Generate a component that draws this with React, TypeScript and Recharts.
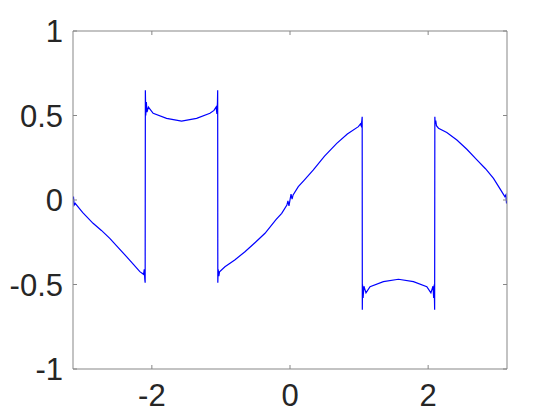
import React from "react";
import { LineChart, Line, XAxis, YAxis } from "recharts";

const xValues: number[] = [
  -3.1416, -3.135, -3.125, -3.11, -3.0, -2.851, -2.73, -2.609, -2.49, -2.367, -2.27, -2.174, -2.12, -2.11, -2.102, -2.097,
  -2.094, -2.088, -2.08, -2.07, -2.05, -1.981, -1.787, -1.57, -1.352, -1.159, -1.1, -1.07, -1.058, -1.05,
  -1.047, -1.045, -1.04, -1.03, -1.02, -0.942, -0.8, -0.652, -0.5, -0.362, -0.2, -0.12, -0.045, -0.03, -0.015, 0.0, 0.015,
  0.03, 0.045, 0.12, 0.2, 0.338, 0.5, 0.677, 0.83, 0.99, 1.02, 1.03, 1.04, 1.045,
  1.047, 1.05, 1.058, 1.07, 1.1, 1.159, 1.352, 1.57, 1.787, 1.981, 2.04, 2.07, 2.08, 2.088, 2.094,
  2.097, 2.102, 2.11, 2.12, 2.15, 2.27, 2.416, 2.56, 2.706, 2.83, 2.946, 3.05, 3.11, 3.125, 3.135, 3.1416,
];

const yValues: number[] = [
  0.0, 0.02, -0.03, -0.02, -0.075, -0.138, -0.18, -0.227, -0.28, -0.335, -0.38, -0.424, -0.44, -0.41, -0.47, -0.49,
  0.65, 0.5, 0.58, 0.52, 0.55, 0.513, 0.483, 0.467, 0.483, 0.513, 0.53, 0.55, 0.51, 0.58,
  0.65, -0.49, -0.41, -0.45, -0.425, -0.395, -0.355, -0.306, -0.25, -0.197, -0.115, -0.079, -0.03, -0.005, -0.035, 0.0, 0.035,
  0.005, 0.03, 0.079, 0.115, 0.178, 0.26, 0.335, 0.39, 0.434, 0.45, 0.44, 0.47, 0.493,
  -0.65, -0.5, -0.58, -0.51, -0.55, -0.513, -0.483, -0.469, -0.483, -0.513, -0.55, -0.51, -0.58, -0.5, -0.65,
  0.493, 0.45, 0.47, 0.44, 0.425, 0.4, 0.355, 0.3, 0.237, 0.185, 0.128, 0.06, 0.02, 0.03, -0.02, 0.0,
];

const xTicks: number[] = [-2, 0, 2];
const yTicks: number[] = [-1, -0.5, 0, 0.5, 1];
const xDomain: [number, number] = [-Math.PI, Math.PI];
const yDomain: [number, number] = [-1, 1];

const data = xValues.map((x, i) => ({ x, y: yValues[i] }));

const AXIS = "#878787";
const TEXT = "#262626";
const FONT = "'Liberation Sans', Arial, Helvetica, sans-serif";
const FS = 31;
const TL = 4;

const fmt = (v: number) => String(v);

const BottomTick = (p: any) => (
  <g>
    <line x1={p.x} y1={p.y} x2={p.x} y2={p.y - TL} stroke={AXIS} strokeWidth={1} />
    <text x={p.x} y={p.y + 37} textAnchor="middle" fill={TEXT} fontFamily={FONT} fontSize={FS}>
      {fmt(p.payload.value)}
    </text>
  </g>
);
const TopTick = (p: any) => (
  <line x1={p.x} y1={p.y} x2={p.x} y2={p.y + TL} stroke={AXIS} strokeWidth={1} />
);
const LeftTick = (p: any) => (
  <g>
    <line x1={p.x} y1={p.y} x2={p.x + TL} y2={p.y} stroke={AXIS} strokeWidth={1} />
    <text x={p.x - 10} y={p.y + 11} textAnchor="end" fill={TEXT} fontFamily={FONT} fontSize={FS}>
      {fmt(p.payload.value)}
    </text>
  </g>
);
const RightTick = (p: any) => (
  <line x1={p.x} y1={p.y} x2={p.x - TL} y2={p.y} stroke={AXIS} strokeWidth={1} />
);

export default function App() {
  return (
    <div style={{ position: "absolute", left: 0, top: 0, width: 560, height: 420, background: "#fff" }}>
      <LineChart width={560} height={420} data={data} margin={{ top: 30, right: 52, bottom: 0, left: 0 }}>
        <XAxis
          xAxisId="b"
          dataKey="x"
          type="number"
          domain={xDomain}
          ticks={xTicks}
          allowDataOverflow
          orientation="bottom"
          height={51}
          tickSize={0}
          tickMargin={0}
          tickLine={false}
          axisLine={{ stroke: AXIS, strokeWidth: 1 }}
          tick={BottomTick}
          interval={0}
        />
        <XAxis
          xAxisId="t"
          dataKey="x"
          type="number"
          domain={xDomain}
          ticks={xTicks}
          allowDataOverflow
          orientation="top"
          height={1}
          tickSize={0}
          tickMargin={0}
          tickLine={false}
          axisLine={{ stroke: AXIS, strokeWidth: 1 }}
          tick={TopTick}
          interval={0}
        />
        <YAxis
          yAxisId="l"
          type="number"
          domain={yDomain}
          ticks={yTicks}
          allowDataOverflow
          orientation="left"
          width={73}
          tickSize={0}
          tickMargin={0}
          tickLine={false}
          axisLine={{ stroke: AXIS, strokeWidth: 1 }}
          tick={LeftTick}
          interval={0}
        />
        <YAxis
          yAxisId="r"
          type="number"
          domain={yDomain}
          ticks={yTicks}
          allowDataOverflow
          orientation="right"
          width={1}
          tickSize={0}
          tickMargin={0}
          tickLine={false}
          axisLine={{ stroke: AXIS, strokeWidth: 1 }}
          tick={RightTick}
          interval={0}
        />
        <Line
          xAxisId="b"
          yAxisId="l"
          type="linear"
          dataKey="y"
          stroke="#0000ff"
          strokeWidth={1.2}
          dot={false}
          isAnimationActive={false}
        />
        <Line
          xAxisId="t"
          yAxisId="r"
          type="linear"
          dataKey="y"
          stroke="none"
          dot={false}
          isAnimationActive={false}
        />
      </LineChart>
    </div>
  );
}
